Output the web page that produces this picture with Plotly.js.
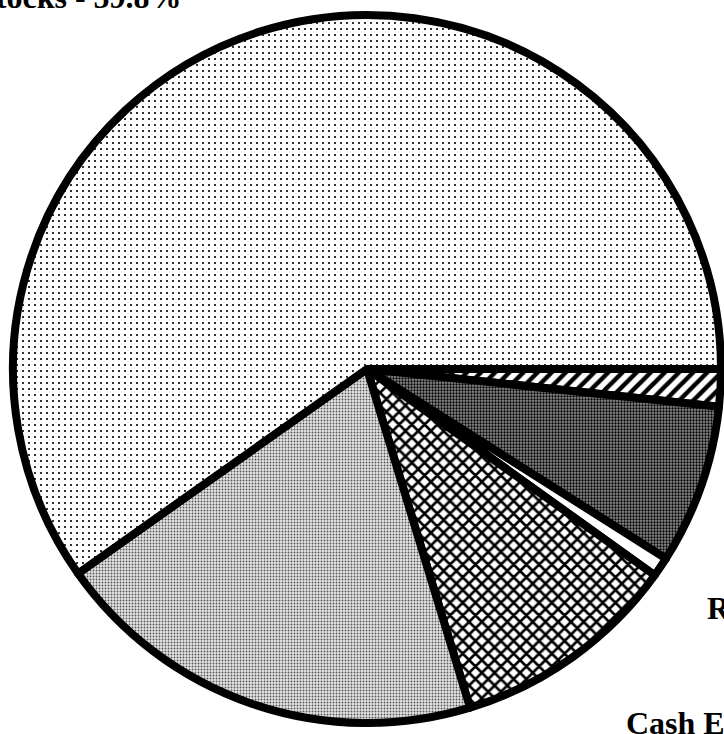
<!DOCTYPE html>
<html>
<head>
<meta charset="utf-8">
<script src="https://cdn.plot.ly/plotly-3.0.1.min.js"></script>
<style>
  html, body { margin: 0; padding: 0; overflow: hidden; background: #ffffff; width: 724px; height: 734px; }
  #chart { position: absolute; left: -40px; top: -40px; width: 840px; height: 814px; }
</style>
</head>
<body>
<div id="chart"></div>
<script>
// Portfolio allocation (%), listed clockwise starting at 3 o'clock
const labels = ['Other', 'International', 'Real Estate', 'Cash Equivalents', 'Bonds', 'Stocks'];
const values = [1.7, 7.3, 0.9, 10.4, 19.9, 59.8];

// Fill texture of each slice, same order as above
const patternShapes = ['/', '.', '', 'x', '.', '.'];
const patternSizes = [10, 3, 8, 9, 3, 6];
const patternSolidity = [0.45, 0.45, 0.3, 0.5, 0.3, 0.1];
const patternBg = ['#ffffff', '#8c8c8c', '#ffffff', '#ffffff', '#e4e4e4', '#ffffff'];
const patternFg = ['#000000', '#000000', '#000000', '#000000', '#555555', '#000000'];

// Slices that carry a caption beside the pie
const captioned = ['Stocks', 'Real Estate', 'Cash Equivalents'];

// Page geometry (the plot div is offset so the pie can bleed past the page)
const W = 840, H = 814, OFF_X = 40, OFF_Y = 40;
const cx = 367 + OFF_X, cy = 369 + OFF_Y, R = 354;

// caption anchor: left edge and baseline in page pixels
const captionPos = {
  'Stocks': [-22, 8],
  'Real Estate': [707, 619],
  'Cash Equivalents': [626, 734]
};
const FONT_SIZE = 32;

const annotations = captioned.map(name => {
  const v = values[labels.indexOf(name)];
  const [lx, by] = captionPos[name];
  const px = lx + OFF_X - 2;
  const py = by + OFF_Y + 0.216 * FONT_SIZE + 2;
  return {
    text: name + ' - ' + v.toFixed(1) + '%',
    xref: 'paper', yref: 'paper',
    x: px / W, y: (H - py) / H,
    xanchor: 'left', yanchor: 'bottom',
    showarrow: false,
    font: { family: 'Liberation Serif, Times New Roman, serif', size: FONT_SIZE, color: '#000000', weight: 'bold' }
  };
});

const trace = {
  type: 'pie',
  labels: labels,
  values: values,
  sort: false,
  direction: 'clockwise',
  rotation: 90,
  textinfo: 'none',
  hoverinfo: 'label+percent',
  showlegend: false,
  domain: {
    x: [(cx - R) / W, (cx + R) / W],
    y: [(H - cy - R) / H, (H - cy + R) / H]
  },
  marker: {
    colors: patternBg,
    line: { color: '#000000', width: 8 },
    pattern: {
      shape: patternShapes,
      size: patternSizes,
      solidity: patternSolidity,
      bgcolor: patternBg,
      fgcolor: patternFg,
      fillmode: 'replace'
    }
  }
};

const layout = {
  width: W,
  height: H,
  margin: { l: 0, r: 0, t: 0, b: 0, pad: 0 },
  paper_bgcolor: '#ffffff',
  plot_bgcolor: '#ffffff',
  showlegend: false,
  annotations: annotations
};

Plotly.newPlot('chart', [trace], layout, { displayModeBar: false, staticPlot: true });
</script>
</body>
</html>
